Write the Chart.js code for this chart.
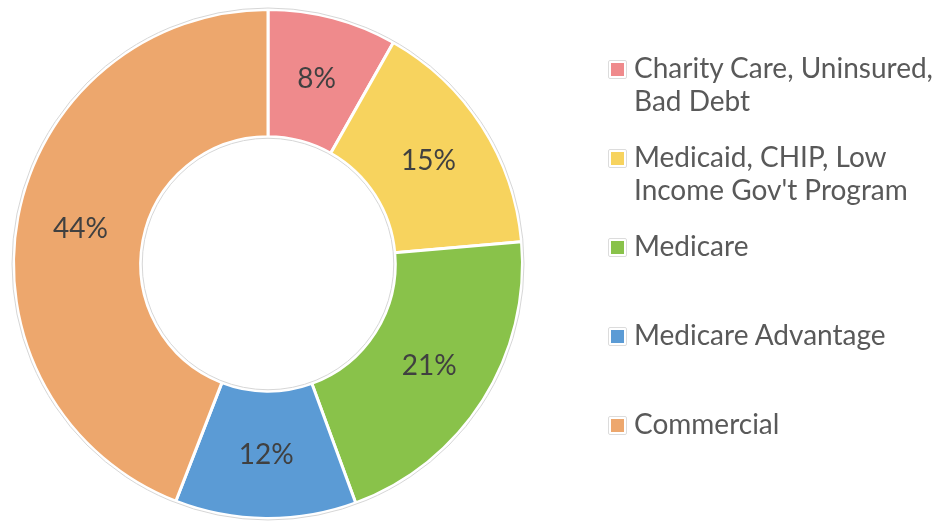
<!DOCTYPE html>
<html>
<head>
<meta charset="utf-8">
<script src="https://cdn.jsdelivr.net/npm/chart.js@4.4.1/dist/chart.umd.min.js"></script>
<style>
  html, body { margin: 0; padding: 0; background: #ffffff; }
  #wrap { position: relative; width: 940px; height: 521px; overflow: hidden; }
  #chart { position: absolute; left: 0; top: 0; }
  #legend { position: absolute; left: 608px; top: 51px; margin: 0; padding: 0; list-style: none;
            font-family: Lato, "Open Sans", sans-serif; font-size: 28px; line-height: 33px; color: #595959; }
  #legend li { position: relative; height: 89px; padding-left: 26px; white-space: nowrap; }
  #legend .box { position: absolute; left: 0; top: 9px; width: 13px; height: 13px; padding: 2px;
                 border: 1px solid #dcdcdc; border-radius: 2px; background-clip: content-box; }
</style>
</head>
<body>
<div id="wrap">
  <canvas id="chart" width="940" height="521"></canvas>
  <ul id="legend"></ul>
</div>
<script>
const categories = [
  ["Charity Care, Uninsured,", "Bad Debt"],
  ["Medicaid, CHIP, Low", "Income Gov't Program"],
  ["Medicare"],
  ["Medicare Advantage"],
  ["Commercial"]
];
const shares = [8.2, 15.4, 20.8, 11.5, 44.1];
const colors = ["#EF8A8C", "#F7D35E", "#89C24A", "#5B9BD5", "#EDA76D"];

// HTML legend (real text)
const legendEl = document.getElementById('legend');
categories.forEach((lines, i) => {
  const li = document.createElement('li');
  const box = document.createElement('span');
  box.className = 'box';
  box.style.backgroundColor = colors[i];
  li.appendChild(box);
  lines.forEach((t, k) => {
    if (k > 0) li.appendChild(document.createElement('br'));
    li.appendChild(document.createTextNode(t));
  });
  legendEl.appendChild(li);
});

const outlinePlugin = {
  id: 'outline',
  afterDatasetsDraw(chart) {
    const meta = chart.getDatasetMeta(0);
    const arc = meta.data[0];
    if (!arc) return;
    const { x, y, innerRadius, outerRadius } = arc.getProps(['x', 'y', 'innerRadius', 'outerRadius'], true);
    const ctx = chart.ctx;
    ctx.save();
    ctx.strokeStyle = '#d6d6d6';
    ctx.lineWidth = 1;
    ctx.beginPath(); ctx.arc(x, y, outerRadius + 1.5, 0, Math.PI * 2); ctx.stroke();
    ctx.beginPath(); ctx.arc(x, y, innerRadius - 1.5, 0, Math.PI * 2); ctx.stroke();
    ctx.restore();
  }
};

const labelPlugin = {
  id: 'sliceLabels',
  afterDatasetsDraw(chart) {
    const meta = chart.getDatasetMeta(0);
    const data = chart.data.datasets[0].data;
    const total = data.reduce((a, b) => a + b, 0);
    const ctx = chart.ctx;
    ctx.save();
    ctx.font = '28px Lato, "Open Sans", sans-serif';
    ctx.fillStyle = '#404040';
    ctx.textAlign = 'center';
    ctx.textBaseline = 'middle';
    meta.data.forEach((arc, i) => {
      const p = arc.getCenterPoint(true);
      ctx.fillText(Math.round(data[i] / total * 100) + '%', p.x, p.y);
    });
    ctx.restore();
  }
};

new Chart(document.getElementById('chart'), {
  type: 'doughnut',
  data: {
    labels: categories.map(l => l.join(' ')),
    datasets: [{
      data: shares,
      backgroundColor: colors,
      borderColor: '#ffffff',
      borderWidth: 3,
      hoverOffset: 0
    }]
  },
  options: {
    responsive: false,
    animation: false,
    cutout: '50%',
    layout: { padding: { left: 12, top: 8, right: 416, bottom: 1 } },
    plugins: {
      legend: { display: false },
      tooltip: { enabled: false }
    }
  },
  plugins: [outlinePlugin, labelPlugin]
});
</script>
</body>
</html>
